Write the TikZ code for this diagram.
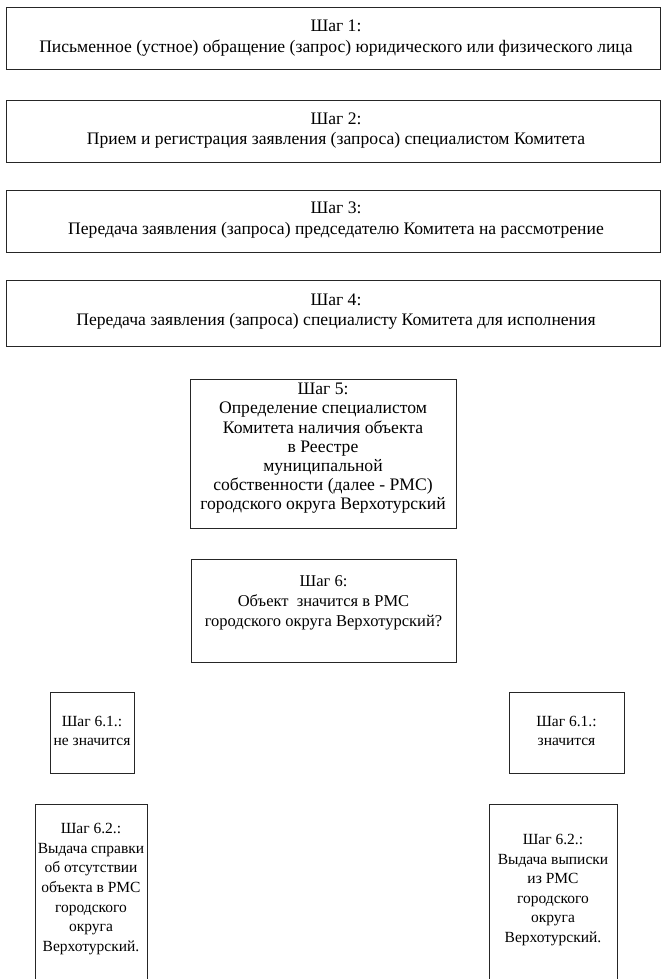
\documentclass[tikz,border=0pt]{standalone}
\usepackage{fontspec}
\setmainfont{Liberation Serif}
\begin{document}
\begin{tikzpicture}[x=1pt,y=-1pt,
  box/.style={draw=black!85, line width=0.8pt, inner sep=0pt},
  txt/.style={align=center, inner sep=0pt},
  ftop/.style={font=\fontsize{17.6}{20.5}\selectfont},
  ffive/.style={font=\fontsize{17.6}{19.2}\selectfont},
  fsix/.style={font=\fontsize{16.5}{20}\selectfont},
  fsmall/.style={font=\fontsize{15.5}{19.6}\selectfont}]
\useasboundingbox (0,0) rectangle (662,979);
% Step 1-4
\node[box, minimum width=654, minimum height=62] (s1) at (333.5,38) {};
\node[txt, ftop] (t1) at (336,38) {Шаг 1:\\Письменное (устное) обращение (запрос) юридического или физического лица};
\node[box, minimum width=654, minimum height=62] (s2) at (333.5,131) {};
\node[txt, ftop] (t2) at (336,130.5) {Шаг 2:\\Прием и регистрация заявления (запроса) специалистом Комитета};
\node[box, minimum width=654, minimum height=62] (s3) at (333.5,221) {};
\node[txt, ftop] (t3) at (336,220) {Шаг 3:\\Передача заявления (запроса) председателю Комитета на рассмотрение};
\node[box, minimum width=654, minimum height=66] (s4) at (333.5,313) {};
\node[txt, ftop] (t4) at (336,311.5) {Шаг 4:\\Передача заявления (запроса) специалисту Комитета для исполнения};
% Step 5
\node[box, minimum width=266, minimum height=149] (s5) at (323,453.5) {};
\node[txt, ffive] (t5) at (323,448.5) {Шаг 5:\\Определение специалистом\\Комитета наличия объекта\\в Реестре\\муниципальной\\собственности (далее - РМС)\\городского округа Верхотурский};
% Step 6
\node[box, minimum width=265, minimum height=103] (s6) at (323.5,610.5) {};
\node[txt, fsix] (t6) at (323.5,603) {Шаг 6:\\Объект\ \ значится в РМС\\городского округа Верхотурский?};
% Step 6.1
\node[box, minimum width=84, minimum height=81] (s61a) at (92,732.5) {};
\node[txt, fsmall] (t61a) at (92,731) {Шаг 6.1.:\\не значится};
\node[box, minimum width=115, minimum height=81] (s61b) at (566.5,732.5) {};
\node[txt, fsmall] (t61b) at (566.5,731) {Шаг 6.1.:\\значится};
% Step 6.2
\node[box, minimum width=112, minimum height=200] (s62a) at (91,904) {};
\node[txt, fsmall] (t62a) at (91,889) {Шаг 6.2.:\\Выдача справки\\об отсутствии\\объекта в РМС\\городского\\округа\\Верхотурский.};
\node[box, minimum width=128, minimum height=200] (s62b) at (553,904) {};
\node[txt, fsmall] (t62b) at (553,890) {Шаг 6.2.:\\Выдача выписки\\из РМС\\городского\\округа\\Верхотурский.};
\end{tikzpicture}
\end{document}
